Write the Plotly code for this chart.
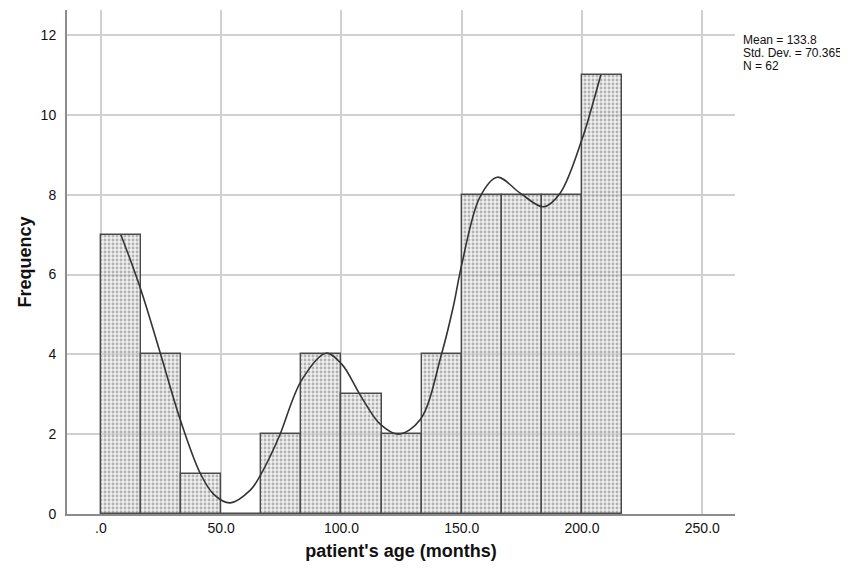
import plotly.graph_objects as go

# Histogram data (bin width = 16.667 months)
bin_mids = [8.33, 25.0, 41.67, 58.33, 75.0, 91.67, 108.33, 125.0, 141.67, 158.33, 175.0, 191.67, 208.33]
counts = [7, 4, 1, 0, 2, 4, 3, 2, 4, 8, 8, 8, 11]
bin_width = 16.667

# Smooth interpolation line
curve_x = [8.3, 16.4, 24.7, 33.0, 41.3, 46.8, 53.7, 62.1, 66.2, 70.4, 74.5, 83.5, 93.6, 100.2,
           107.8, 116.1, 123.7, 132.7, 141.7, 146.5, 150.0, 157.6, 164.8,
           174.3, 184.0, 190.9, 199.9, 204.1, 207.8]
curve_y = [7.0, 5.66, 4.03, 2.36, 1.02, 0.5, 0.28, 0.6, 0.96, 1.45, 2.0, 3.36, 4.03, 3.75,
           2.98, 2.25, 2.0, 2.36, 4.03, 5.2, 6.25, 7.95, 8.44,
           8.04, 7.7, 8.04, 9.37, 10.2, 11.0]

x_tickvals = [0, 50, 100, 150, 200, 250]
x_ticktext = [".0", "50.0", "100.0", "150.0", "200.0", "250.0"]
y_tickvals = [0, 2, 4, 6, 8, 10, 12]

stats = ["Mean = 133.8", "Std. Dev. = 70.365", "N = 62"]

FONT = "Liberation Sans, Arial, sans-serif"

# page body has an 8px default margin, so the figure is drawn offset by 8px
OFF = 8
W, H = 848 - OFF, 575 - OFF
L, R, T, B = 67 - OFF, 113, 10 - OFF, 61
ph = H - T - B
pw = W - L - R

fig = go.Figure()
fig.add_trace(go.Bar(
    x=bin_mids, y=counts, width=bin_width,
    marker=dict(
        color="rgba(215,215,215,0.45)",
        line=dict(color="#4a4a4a", width=1.4),
        pattern=dict(shape=".", fgcolor="#747474", bgcolor="rgba(222,222,222,0.45)",
                     size=4, solidity=0.4),
    ),
    showlegend=False, hoverinfo="skip",
))
fig.add_trace(go.Scatter(
    x=curve_x, y=curve_y, mode="lines",
    line=dict(color="#333333", width=1.6, shape="spline", smoothing=1.0),
    showlegend=False, hoverinfo="skip",
))

for i, s in enumerate(stats):
    py = 40 + 13 * i - OFF
    fig.add_annotation(
        text=s, xref="paper", yref="paper",
        x=(741 - OFF - L) / pw, y=(H - B - py) / ph,
        xanchor="left", yanchor="middle", showarrow=False,
        font=dict(family=FONT, size=12, color="#111111"),
    )

fig.update_layout(
    width=W, height=H,
    margin=dict(l=L, r=R, t=T, b=B, autoexpand=False),
    plot_bgcolor="white", paper_bgcolor="white",
    bargap=0,
    font=dict(family=FONT, color="#111111"),
    xaxis=dict(
        range=[-14.1, 263.6],
        tickvals=x_tickvals, ticktext=x_ticktext,
        showgrid=True, gridcolor="#d0d0d0", gridwidth=1.5,
        showline=True, linecolor="#8c8c8c", linewidth=2,
        zeroline=False, ticks="", automargin=False,
        tickfont=dict(size=14, family=FONT, color="#111111"),
        title=dict(text="<b>patient's age (months)</b>", font=dict(size=18, family=FONT, color="#111111"), standoff=10),
    ),
    yaxis=dict(
        range=[0, 12.63],
        tickvals=y_tickvals,
        showgrid=True, gridcolor="#d0d0d0", gridwidth=1.5,
        showline=True, linecolor="#8c8c8c", linewidth=2,
        zeroline=False, ticks="", automargin=False, ticklabelstandoff=6,
        tickfont=dict(size=14, family=FONT, color="#111111"),
        title=dict(text="<b>Frequency</b>", font=dict(size=18, family=FONT, color="#111111"), standoff=4),
    ),
)

fig.write_html("out.html")
